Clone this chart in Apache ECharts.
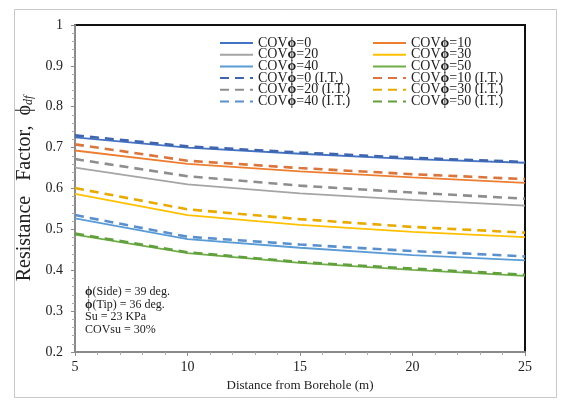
<!DOCTYPE html>
<html><head><meta charset="utf-8">
<script src="https://cdn.jsdelivr.net/npm/echarts@6/dist/echarts.min.js"></script>
<style>html,body{margin:0;padding:0;background:#fff}#c{width:566px;height:404px}</style>
</head><body><div id="c"></div>
<script>
const distances = [5, 10, 15, 20, 25];
const cov0   = [0.725, 0.700, 0.685, 0.672, 0.663];
const cov10  = [0.693, 0.660, 0.642, 0.627, 0.614];
const cov20  = [0.651, 0.610, 0.588, 0.572, 0.558];
const cov30  = [0.587, 0.535, 0.511, 0.494, 0.481];
const cov40  = [0.527, 0.476, 0.455, 0.437, 0.424];
const cov50  = [0.487, 0.442, 0.418, 0.401, 0.386];
const cov0IT  = [0.730, 0.703, 0.688, 0.675, 0.665];
const cov10IT = [0.708, 0.668, 0.650, 0.635, 0.623];
const cov20IT = [0.672, 0.630, 0.607, 0.590, 0.575];
const cov30IT = [0.601, 0.549, 0.525, 0.506, 0.492];
const cov40IT = [0.535, 0.482, 0.463, 0.447, 0.434];
const cov50IT = [0.490, 0.444, 0.420, 0.404, 0.389];
const names = ['COVϕ=0','COVϕ=10','COVϕ=20','COVϕ=30','COVϕ=40','COVϕ=50'];
const namesIT = names.map(n => n + ' (I.T.)');
const solidData = [cov0, cov10, cov20, cov30, cov40, cov50];
const dashData = [cov0IT, cov10IT, cov20IT, cov30IT, cov40IT, cov50IT];
const solidColors = ['#4472C4','#ED7D31','#A5A5A5','#FFC000','#5B9BD5','#70AD47'];
const dashColors  = ['#3F66AD','#D8763E','#8E8E8E','#E8A900','#5B90CC','#62A03F'];
const axisTicksY = [0.2,0.3,0.4,0.5,0.6,0.7,0.8,0.9,1];
const annotation = ['{b|ϕ}(Side) = 39 deg.','{b|ϕ}(Tip) = 36 deg.','Su = 23 KPa','COVsu = 30%'];

const serif = '"Liberation Serif","DejaVu Serif",serif';
const series = [];
names.forEach((n,i) => series.push({
  name: n, type: 'line', symbol: 'none', showSymbol: false, smooth: false,
  data: distances.map((d,j) => [d, solidData[i][j]]),
  lineStyle: {color: solidColors[i], width: 1.8},
  itemStyle: {color: solidColors[i]}, z: 2
}));
namesIT.forEach((n,i) => series.push({
  name: n, type: 'line', symbol: 'none', showSymbol: false, smooth: false,
  data: distances.map((d,j) => [d, dashData[i][j]]),
  lineStyle: {color: dashColors[i], width: 2.6, type: [9,6]},
  itemStyle: {color: dashColors[i]}, z: 3
}));
const fmt = n => n.replace('ϕ', '{b|ϕ}');
const legendText = {fontFamily: serif, fontSize: 14, color: '#222', lineHeight: 11.7,
  rich: {b: {fontFamily: serif, fontSize: 14, fontWeight: 'bold', color: '#222', lineHeight: 11.7}}};
const col1 = [names[0], names[2], names[4], namesIT[0], namesIT[2], namesIT[4]];
const col2 = [names[1], names[3], names[5], namesIT[1], namesIT[3], namesIT[5]];
const legendCommon = {orient: 'vertical', top: 36, itemWidth: 33, itemHeight: 10, itemGap: -2.3,
  padding: 0, textStyle: legendText, formatter: fmt, selectedMode: false,
  itemStyle: {opacity: 0, borderWidth: 0}};
const chart = echarts.init(document.getElementById('c'), null, {renderer: 'canvas'});
chart.setOption({
  animation: false,
  backgroundColor: '#fff',
  grid: {left: 75, right: 41, top: 25, bottom: 52, show: true, borderColor: '#111', borderWidth: 2},
  legend: [
    Object.assign({data: col1, left: 219}, legendCommon),
    Object.assign({data: col2, left: 372}, legendCommon)
  ],
  xAxis: {
    type: 'value', min: 5, max: 25, interval: 5,
    name: 'Distance from Borehole (m)', nameLocation: 'middle', nameGap: 26,
    nameTextStyle: {fontFamily: serif, fontSize: 13, color: '#222'},
    axisLine: {lineStyle: {color: '#8a8a8a', width: 2}},
    axisTick: {length: 4, lineStyle: {color: '#8a8a8a'}},
    minorTick: {show: true, splitNumber: 5, length: 3, lineStyle: {color: '#aaa'}},
    axisLabel: {fontFamily: serif, fontSize: 14, color: '#222', margin: 8},
    splitLine: {show: false}
  },
  yAxis: {
    type: 'value', min: 0.2, max: 1, interval: 0.1,
    name: 'Resistance   Factor,  {p|ϕ}{s|df}', nameLocation: 'middle', nameGap: 37,
    nameTextStyle: {fontFamily: serif, fontSize: 20, color: '#222',
      rich: {p: {fontFamily: serif, fontSize: 20, color: '#222'},
             s: {fontFamily: serif, fontSize: 12, fontStyle: 'italic', color: '#222', padding: [8,0,0,0]}}},
    axisLine: {lineStyle: {color: '#8a8a8a', width: 2}},
    axisTick: {length: 4, lineStyle: {color: '#8a8a8a'}},
    minorTick: {show: true, splitNumber: 5, length: 3, lineStyle: {color: '#aaa'}},
    axisLabel: {fontFamily: serif, fontSize: 14, color: '#222', margin: 12,
      formatter: v => axisTicksY.includes(+v.toFixed(1)) ? (+v.toFixed(1)).toString() : ''},
    splitLine: {show: false}
  },
  graphic: [
    {type: 'rect', left: 12, top: 7, shape: {width: 542, height: 388},
     style: {fill: 'none', stroke: '#c8c8c8', lineWidth: 1}, silent: true, z: -1},
    {type: 'text', left: 85, top: 286, z: 10,
     style: {text: annotation.join('\n'), font: '12px ' + serif, fill: '#222', lineHeight: 12.4,
       rich: {b: {font: 'bold 12px ' + serif, fill: '#222', lineHeight: 12.4}}}}
  ],
  series: series
});
</script></body></html>
